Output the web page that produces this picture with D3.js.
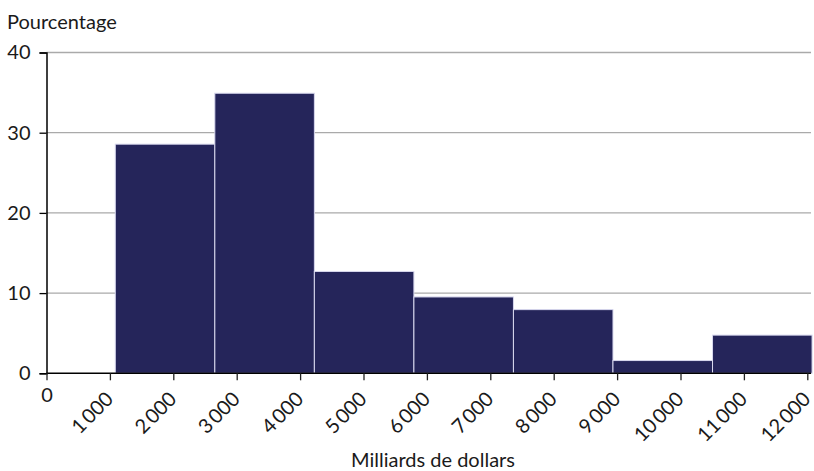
<!DOCTYPE html>
<html><head><meta charset="utf-8">
<script src="https://cdn.jsdelivr.net/npm/d3@7"></script>
<style>body{margin:0;background:#fff;} text{font-family:Lato, "Open Sans", sans-serif;fill:#1a1a1a;}</style>
</head><body><svg id="c" width="814" height="471"></svg>
<script>
const binStarts = [1085, 2655, 4225, 5795, 7365, 8935, 10505];
const binWidth = 1570;
const percentages = [28.57, 34.92, 12.70, 9.52, 7.94, 1.59, 4.76];
const xTicks = [0,1000,2000,3000,4000,5000,6000,7000,8000,9000,10000,11000,12000];
const yTicks = [0,10,20,30,40];
const yTitle = "Pourcentage";
const xTitle = "Milliards de dollars";

const svg = d3.select("#c");
const x = d3.scaleLinear().domain([0,12000]).range([46.5,807.3]);
const y = d3.scaleLinear().domain([0,40]).range([373.3,52.5]);
const fmt = v => v===0 ? "0" : d3.format(",")(v).replace(/,/g,"\u2009");

// gridlines
svg.append("g").selectAll("line").data(yTicks.filter(d=>d>0)).join("line")
  .attr("x1",x(0)).attr("x2",811).attr("y1",d=>y(d)).attr("y2",d=>y(d))
  .attr("stroke","#aaaaaa").attr("stroke-width",1.3);

// bars
svg.append("g").selectAll("rect").data(percentages).join("rect")
  .attr("x",(d,i)=>x(binStarts[i]))
  .attr("width",(d,i)=>x(binStarts[i]+binWidth)-x(binStarts[i]))
  .attr("y",d=>y(d)).attr("height",d=>y(0)-y(d))
  .attr("fill","#25255a").attr("stroke","#d8d8ee").attr("stroke-width",1);

// y axis
const ya = svg.append("g").attr("transform",`translate(${x(0)},0)`)
  .call(d3.axisLeft(y).tickValues(yTicks).tickSize(7).tickPadding(9));
ya.select(".domain").attr("stroke","#000").attr("stroke-width",1.5);
ya.selectAll(".tick line").attr("stroke","#000").attr("stroke-width",1.3);
ya.selectAll(".tick text").style("font-size","20px").attr("fill","#1a1a1a").style("font-family","Lato");

// x axis
const xa = svg.append("g").attr("transform",`translate(0,${y(0)})`)
  .call(d3.axisBottom(x).tickValues(xTicks).tickSize(7).tickFormat(fmt));
xa.select(".domain").attr("d",`M${x(0)},0H811`).attr("stroke","#000").attr("stroke-width",1.5);
xa.selectAll(".tick line").attr("stroke","#222").attr("stroke-width",1.3);
xa.selectAll(".tick text").style("font-size","20px").attr("fill","#1a1a1a").style("font-family","Lato")
  .each(function(d){
    const t = d3.select(this);
    if(d===0){ t.attr("y",29).attr("dy",0).attr("text-anchor","middle"); }
    else { t.attr("text-anchor","end").attr("y",0).attr("dy",0)
      .attr("transform","translate(4,27) rotate(-45)"); }
  });

svg.append("text").attr("x",7).attr("y",28.5).text(yTitle).style("font-size","20px");
svg.append("text").attr("x",433).attr("y",467).attr("text-anchor","middle").text(xTitle).style("font-size","20px");
</script></body></html>
